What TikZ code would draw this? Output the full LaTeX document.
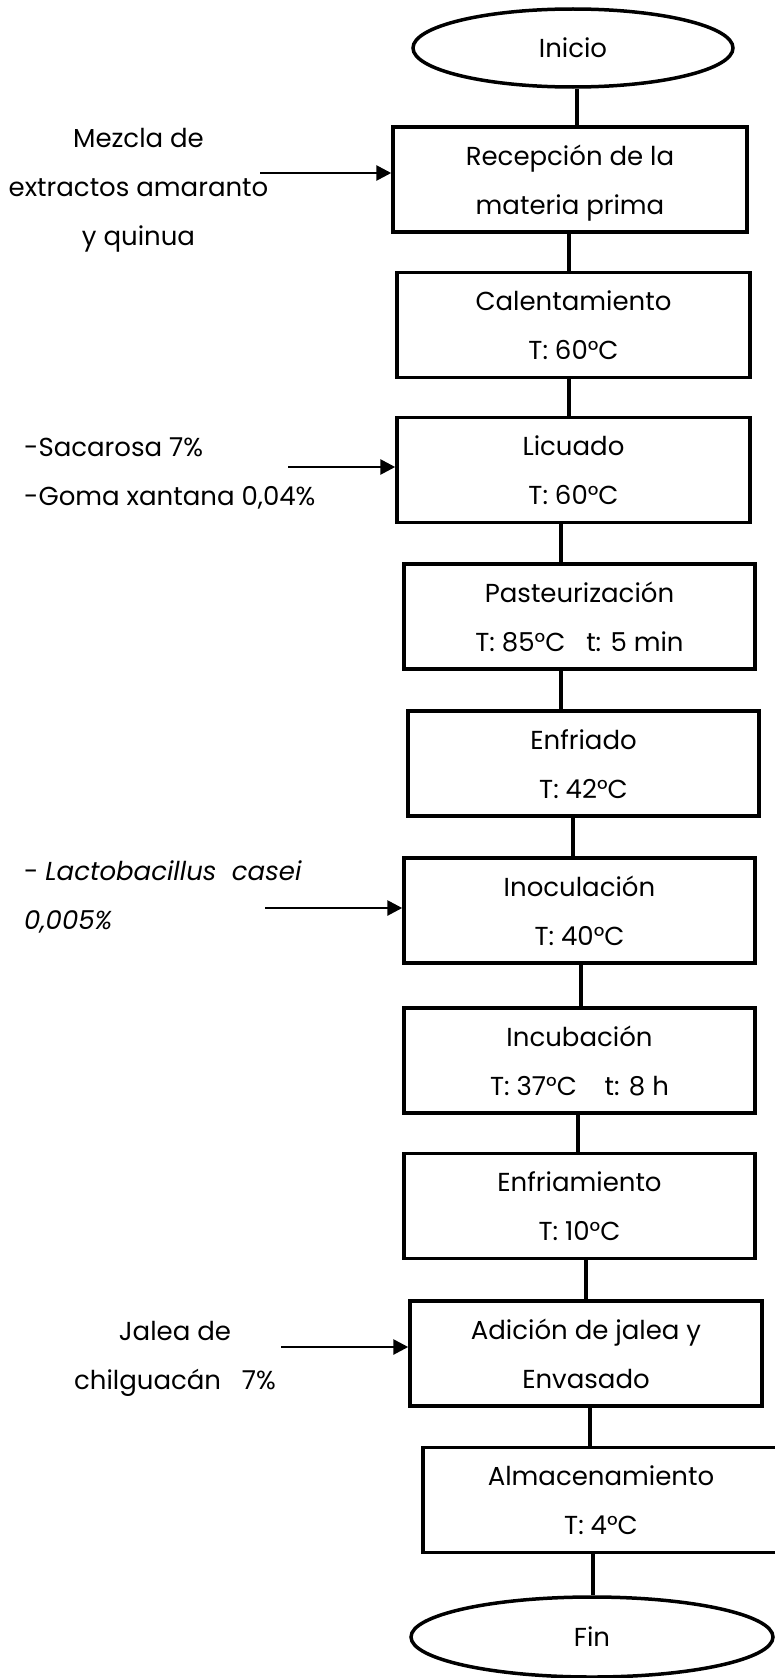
\documentclass[tikz,border=0pt]{standalone}
\usepackage{fontspec}
\setmainfont{Poppins}
\usetikzlibrary{shapes.geometric,arrows.meta}

\begin{document}
\begin{tikzpicture}[x=1pt,y=-1pt,font=\fontsize{26}{49}\selectfont,
  paso/.style={draw,line width=3.5pt,minimum height=105pt,inner sep=0pt,align=center,
    text height=69pt,text depth=0pt},
  term/.style={draw,ellipse,line width=3.5pt,inner sep=0pt},
  nota/.style={inner sep=0pt},
  flecha/.style={line width=2.8pt,-{Triangle[length=15pt,width=15pt]}}]
\useasboundingbox (0,0) rectangle (774,1678);
\node[term,minimum width=320pt,minimum height=78pt] (inicio) at (573,48) {Inicio};
\node[paso,minimum width=354pt] (recep) at (570,179.5) {Recepción de la\\materia prima};
\node[paso,minimum width=353pt] (calent) at (573.5,325) {Calentamiento\\T: 60°C};
\node[paso,minimum width=353pt] (licuado) at (573.5,470) {Licuado\\T: 60°C};
\node[paso,minimum width=351pt] (pasteur) at (579.5,616.5) {Pasteurización\\T: 85°C\ \ \ t: 5 min};
\node[paso,minimum width=351pt] (enfriado) at (583.5,763.5) {Enfriado\\T: 42°C};
\node[paso,minimum width=351pt] (inocul) at (579.5,910.5) {Inoculación\\T: 40°C};
\node[paso,minimum width=351pt] (incub) at (579.5,1060.5) {Incubación\\T: 37°C\ \ \ \ t: 8 h};
\node[paso,minimum width=351pt] (enfriam) at (579.5,1206) {Enfriamiento\\T: 10°C};
\node[paso,minimum width=352pt] (adicion) at (586,1353.5) {Adición de jalea y\\Envasado};
\node[paso,minimum width=356pt] (almac) at (601,1500) {Almacenamiento\\T: 4°C};
\node[term,minimum width=362pt,minimum height=80pt] (fin) at (592,1637) {Fin};
\foreach \a/\sa/\b/\sb in {inicio/4/recep/7,recep/-1/calent/-4.5,calent/-4.5/licuado/-4.5,
    licuado/-12.5/pasteur/-18.5,pasteur/-18.5/enfriado/-22.5,enfriado/-10.5/inocul/-6.5,
    inocul/1.5/incub/1.5,incub/-1.5/enfriam/-1.5,enfriam/6.5/adicion/0,
    adicion/4/almac/-11,almac/-8/fin/1}
  \draw[line width=3.2pt] ([xshift=\sa]\a.south) -- ([xshift=\sb]\b.north);
\node[nota,align=center,anchor=base] (mezcla) at (138.5,245) {Mezcla de\\extractos amaranto\\y quinua};
\node[nota,align=left,anchor=base west] (azucar) at (24,505) {-Sacarosa 7\%\\-Goma xantana 0,04\%};
\node[nota,align=left,anchor=base west] (cultivo) at (24,929) {- \textit{Lactobacillus\ \ casei}\\\textit{0,005\%}};
\node[nota,align=center,anchor=base] (jalea) at (175,1389) {Jalea de\\chilguacán\ \ \ 7\%};
\coordinate (m1) at (260,173); \coordinate (m2) at (288,467);
\coordinate (m3) at (265,908); \coordinate (m4) at (281,1347);
\foreach \p/\q in {m1/recep,m2/licuado,m3/inocul,m4/adicion}
  \draw[flecha] (\p) -- (\p -| \q.west);
\end{tikzpicture}
\end{document}
